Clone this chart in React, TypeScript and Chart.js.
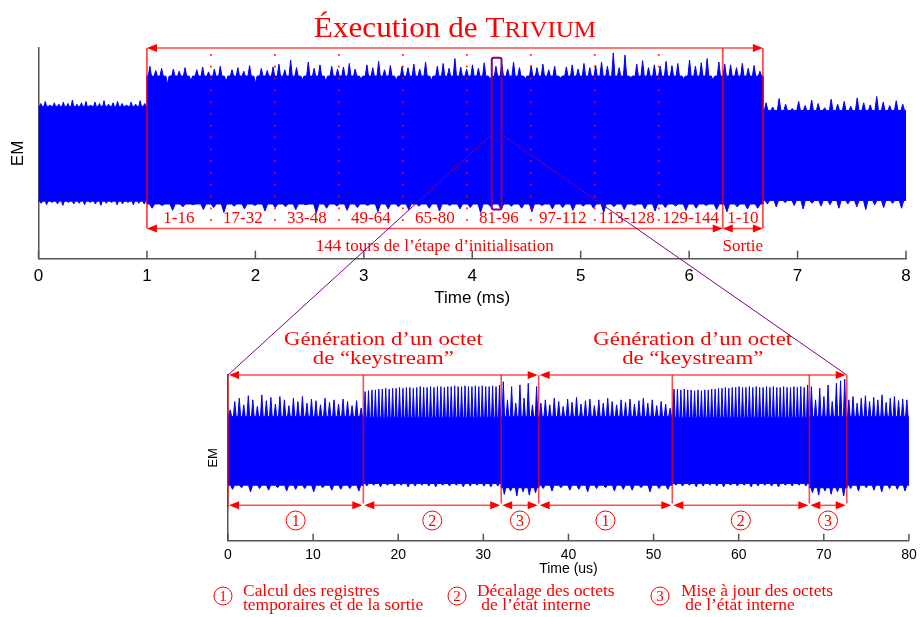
import React, { useEffect, useRef } from "react";
import { Chart, registerables } from "chart.js";

Chart.register(...registerables);

// ---------------- Top trace : whole TRIVIUM execution (time in ms) ----------------
const topSegBounds = [0, 1.0, 6.68, 8.0]; // before / execution / after
const topCoreUpper = [0.67, 1.1, 0.61];
const topCoreLower = [-0.68, -0.72, -0.67];
const topPreUpper = [0.71, 0.74, 0.69, 0.72, 0.7, 0.73, 0.71, 0.76, 0.7, 0.72, 0.74, 0.69, 0.73, 0.71, 0.75, 0.7, 0.72, 0.74, 0.71, 0.69, 0.73, 0.7, 0.75, 0.71];
const topExecUpper = [
  1.24, 1.18, 1.21, 0.98, 1.2, 1.17, 1.22, 1.03, 1.19, 1.23, 1.16,
  1.2, 1.24, 1.02, 1.19, 1.22, 1.17, 1.25, 1.0, 1.21, 1.18, 1.23,
  1.27, 1.19, 1.33, 1.22, 1.05, 1.3, 1.21, 1.26, 1.02, 1.24, 1.2,
  1.23, 1.28, 1.2, 1.06, 1.26, 1.22, 1.31, 1.19, 1.25, 1.04, 1.24,
  1.22, 1.27, 1.2, 1.3, 1.04, 1.24, 1.28, 1.21, 1.35, 1.23, 1.2,
  1.26, 1.21, 1.29, 1.05, 1.24, 1.27, 1.2, 1.3, 1.22, 1.06, 1.25,
  1.22, 1.27, 1.19, 1.24, 1.07, 1.23, 1.26, 1.2, 1.28, 1.22, 1.25,
  1.3, 1.24, 1.43, 1.22, 1.4, 1.08, 1.27, 1.32, 1.22, 1.26, 1.24,
  1.31, 1.25, 1.28, 1.06, 1.33, 1.24, 1.29, 1.35, 1.04, 1.3, 1.27,
  1.26, 1.22, 1.28, 1.21, 1.25, 1.17,
];
const topPostUpper = [0.72, 0.66, 0.78, 0.7, 0.64, 0.74, 0.68, 0.76, 0.71, 0.65, 0.77, 0.7, 0.74, 0.67, 0.79, 0.72, 0.69, 0.81, 0.73, 0.68, 0.75, 0.7];
const topPreLower = [-0.71, -0.73, -0.7, -0.72, -0.74, -0.7, -0.72, -0.71, -0.73, -0.7, -0.72, -0.74, -0.71, -0.7, -0.73, -0.72, -0.7, -0.73, -0.71, -0.72];
const topExecLower = [
  -0.78, -0.74, -0.81, -0.76, -0.73, -0.8, -0.77, -0.84, -0.75, -0.79, -0.74, -0.82, -0.77, -0.76, -0.8,
  -0.73, -0.85, -0.78, -0.75, -0.81, -0.77, -0.74, -0.83, -0.79, -0.76, -0.8, -0.75, -0.78, -0.82, -0.74,
  -0.79, -0.77, -0.84, -0.76, -0.8, -0.75, -0.78, -0.83, -0.74, -0.79, -0.77, -0.81, -0.75, -0.78, -0.84,
  -0.76, -0.8, -0.74, -0.79, -0.82, -0.77, -0.75, -0.81, -0.78, -0.74, -0.8, -0.83, -0.76, -0.79, -0.78,
];
const topPostLower = [-0.72, -0.76, -0.7, -0.74, -0.79, -0.71, -0.75, -0.73, -0.78, -0.72, -0.76, -0.8, -0.73, -0.77, -0.71, -0.78];

const roundLabels = ["1-16", "17-32", "33-48", "49-64", "65-80", "81-96", "97-112", "113-128", "129-144"];
const outputLabel = "1-10";
const initStart = 1.0;
const initEnd = 6.31;
const outputEnd = 6.68;
const zoomBoxX = [4.18, 4.27];
const zoomBoxY = [1.36, -0.8];

// ---------------- Bottom trace : zoom on two keystream bytes (time in us) ----------------
const botSegBounds = [0, 15.9, 32.1, 36.5, 52.2, 68.3, 72.7, 80];
const botSegStep = [1, 2, 3, 1, 2, 3]; // circled step label of each annotated segment
const byteBounds = [0, 36.5, 72.7];
const botCoreUpper = [0.5, 0.49, 0.5, 0.5, 0.49, 0.5, 0.5];
const botCoreLower = [-0.33, -0.31, -0.36, -0.33, -0.31, -0.36, -0.33];
const botUp1a = [0.58, 0.68, 0.72, 0.64, 0.75, 0.7, 0.62, 0.76, 0.69, 0.73, 0.65, 0.74, 0.7, 0.63, 0.72, 0.68, 0.74, 0.66, 0.71, 0.69, 0.64, 0.72, 0.67, 0.7, 0.65, 0.71, 0.68, 0.63, 0.69, 0.6];
const botUp2a = [0.8, 0.81, 0.82, 0.82, 0.83, 0.83, 0.84, 0.83, 0.84, 0.84, 0.85, 0.84, 0.85, 0.85, 0.84, 0.85, 0.86, 0.85, 0.85, 0.86, 0.85, 0.86, 0.86, 0.85, 0.86, 0.86, 0.87, 0.86, 0.86, 0.87, 0.86, 0.86, 0.87, 0.86, 0.87, 0.86, 0.86, 0.87, 0.86, 0.88];
const botUp3a = [0.92, 0.7, 0.86, 0.66, 0.88, 0.72, 0.9, 0.64, 0.86];
const botUp1b = [0.66, 0.7, 0.64, 0.72, 0.68, 0.62, 0.71, 0.67, 0.73, 0.65, 0.69, 0.71, 0.63, 0.7, 0.66, 0.72, 0.68, 0.64, 0.7, 0.67, 0.71, 0.65, 0.69, 0.72, 0.66, 0.7, 0.63, 0.68, 0.65, 0.6];
const botUp2b = [0.83, 0.83, 0.82, 0.83, 0.82, 0.82, 0.81, 0.82, 0.81, 0.82, 0.82, 0.83, 0.83, 0.84, 0.84, 0.85, 0.84, 0.85, 0.85, 0.86, 0.85, 0.85, 0.86, 0.85, 0.86, 0.85, 0.85, 0.86, 0.85, 0.86, 0.85, 0.85, 0.86, 0.85, 0.85, 0.86, 0.85, 0.86, 0.85, 0.88];
const botUp3b = [0.86, 0.7, 0.84, 0.74, 0.88, 0.68, 0.9, 0.93, 0.95];
const botUpPost = [0.7, 0.74, 0.66, 0.72, 0.75, 0.68, 0.73, 0.7, 0.76, 0.67, 0.72, 0.74, 0.69, 0.71, 0.7];
const botLo1a = [-0.38, -0.36, -0.41, -0.37, -0.39, -0.36, -0.4, -0.38, -0.37, -0.41, -0.36, -0.39, -0.38, -0.37, -0.4];
const botLo2a = [-0.34, -0.33, -0.35, -0.33, -0.34, -0.33, -0.35, -0.34, -0.33, -0.34, -0.35, -0.33, -0.34, -0.33, -0.35, -0.34, -0.33, -0.34, -0.35, -0.34];
const botLo3a = [-0.44, -0.4, -0.46, -0.41, -0.45, -0.42];
const botLo1b = [-0.37, -0.4, -0.36, -0.39, -0.38, -0.41, -0.37, -0.36, -0.4, -0.38, -0.39, -0.36, -0.41, -0.37, -0.38];
const botLo2b = [-0.33, -0.34, -0.33, -0.35, -0.34, -0.33, -0.34, -0.35, -0.33, -0.34, -0.33, -0.35, -0.34, -0.33, -0.34, -0.35, -0.33, -0.34, -0.33, -0.34];
const botLo3b = [-0.42, -0.45, -0.4, -0.44, -0.41, -0.46];
const botLoPost = [-0.37, -0.4, -0.36, -0.39, -0.41, -0.37, -0.38, -0.4];

const legendItems = [
  ["Calcul des registres", "temporaires et de la sortie"],
  ["Décalage des octets", " de l’état interne"],
  ["Mise à jour des octets", " de l’état interne"],
];

// ---------------- styles ----------------
const SIG = "#0000ff";
const RED = "rgb(255,0,0)";
const RED_LINE = "rgba(255,0,0,0.7)";
const PURPLE = "rgb(128,0,128)";
const AXIS = "#555555";
const SERIF = '"Liberation Serif", serif';
const SANS = '"Liberation Sans", Arial, sans-serif';

type Pt = { x: number; y: number };

function envelope(bounds: number[], cores: number[], spikes: number[][], width: number): Pt[] {
  const pts: Pt[] = [];
  for (let s = 0; s < spikes.length; s++) {
    const a = bounds[s];
    const b = bounds[s + 1];
    const c = cores[s];
    const sp = spikes[s];
    const p = (b - a) / sp.length;
    pts.push({ x: a, y: c });
    sp.forEach((v, i) => {
      const m = a + (i + 0.5) * p;
      pts.push({ x: m - (width * p) / 2, y: c }, { x: m, y: v }, { x: m + (width * p) / 2, y: c });
    });
    pts.push({ x: b, y: c });
  }
  return pts;
}

function polygon(upper: Pt[], lower: Pt[]): Pt[] {
  return upper.concat(lower.slice().reverse());
}

function arrowHead(ctx: CanvasRenderingContext2D, x: number, y: number, dir: number) {
  ctx.beginPath();
  ctx.moveTo(x, y);
  ctx.lineTo(x - dir * 10, y - 4);
  ctx.lineTo(x - dir * 10, y + 4);
  ctx.closePath();
  ctx.fill();
}

function dblArrow(ctx: CanvasRenderingContext2D, x1: number, x2: number, y: number) {
  ctx.strokeStyle = RED_LINE;
  ctx.lineWidth = 1.5;
  ctx.beginPath();
  ctx.moveTo(x1 + 3, y);
  ctx.lineTo(x2 - 3, y);
  ctx.stroke();
  ctx.fillStyle = RED;
  arrowHead(ctx, x1, y, -1);
  arrowHead(ctx, x2, y, 1);
}

function vline(ctx: CanvasRenderingContext2D, x: number, y1: number, y2: number) {
  ctx.beginPath();
  ctx.moveTo(x, y1);
  ctx.lineTo(x, y2);
  ctx.stroke();
}

// text drawn with a slight horizontal stretch (the original uses a wide serif face)
function textS(ctx: CanvasRenderingContext2D, s: string, x: number, y: number, sx: number, align: CanvasTextAlign) {
  ctx.save();
  ctx.translate(x, y);
  ctx.scale(sx, 1);
  ctx.textAlign = align;
  ctx.textBaseline = "alphabetic";
  ctx.fillText(s, 0, 0);
  ctx.restore();
}

function circled(ctx: CanvasRenderingContext2D, n: number, cx: number, cy: number, r: number, size: number) {
  ctx.strokeStyle = RED;
  ctx.lineWidth = 1;
  ctx.beginPath();
  ctx.arc(cx, cy, r, 0, Math.PI * 2);
  ctx.stroke();
  ctx.fillStyle = RED;
  ctx.font = `${size}px ${SERIF}`;
  ctx.textAlign = "center";
  ctx.textBaseline = "alphabetic";
  ctx.fillText(String(n), cx, cy + size * 0.33);
}

function innerTicks(chart: any, len: number) {
  const ctx = chart.ctx;
  const xs = chart.scales.x;
  const ys = chart.scales.y;
  ctx.strokeStyle = AXIS;
  ctx.lineWidth = 1.5;
  xs.ticks.forEach((t: any) => {
    const px = xs.getPixelForValue(t.value);
    vline(ctx, px, ys.bottom, ys.bottom - len);
  });
}

const topAnnotations = {
  id: "topAnnotations",
  afterDraw(chart: any) {
    const ctx = chart.ctx as CanvasRenderingContext2D;
    const xs = chart.scales.x;
    const ys = chart.scales.y;
    const X = (v: number) => xs.getPixelForValue(v);
    const Y = (v: number) => ys.getPixelForValue(v);
    ctx.save();
    innerTicks(chart, 8);

    const annTop = 1.5;
    const annBottom = -1.07;
    const nR = roundLabels.length;
    const w = (initEnd - initStart) / nR;

    // dotted separators between 16-round blocks
    ctx.strokeStyle = "rgba(255,0,0,0.85)";
    ctx.lineWidth = 1.8;
    ctx.setLineDash([1.8, 10]);
    for (let k = 1; k < nR; k++) vline(ctx, X(initStart + k * w), Y(annTop) + 6, Y(annBottom));
    ctx.setLineDash([]);

    // solid separators
    ctx.strokeStyle = RED_LINE;
    ctx.lineWidth = 1.8;
    [initStart, initEnd, outputEnd].forEach((t) => vline(ctx, X(t), Y(annTop), Y(annBottom)));

    // arrows
    dblArrow(ctx, X(initStart), X(outputEnd), Y(annTop));
    dblArrow(ctx, X(initStart), X(initEnd), Y(annBottom));
    dblArrow(ctx, X(initEnd), X(outputEnd), Y(annBottom));

    // round labels
    ctx.fillStyle = RED;
    ctx.textAlign = "center";
    ctx.textBaseline = "alphabetic";
    ctx.font = `17px ${SERIF}`;
    roundLabels.forEach((lab, k) => ctx.fillText(lab, X(initStart + (k + 0.5) * w), Y(-0.9) + 6));
    ctx.fillText(outputLabel, X((initEnd + outputEnd) / 2), Y(-0.9) + 6);
    ctx.fillText("144 tours de l’étape d’initialisation", X((initStart + initEnd) / 2), Y(-1.3) + 6);
    ctx.fillText("Sortie", X((initEnd + outputEnd) / 2), Y(-1.3) + 6);

    // title with small caps
    const big = 30;
    const small = 24;
    const sx = 1.04;
    const part1 = "Éxecution de T";
    const part2 = "RIVIUM";
    ctx.font = `${big}px ${SERIF}`;
    const w1 = ctx.measureText(part1).width * sx;
    ctx.font = `${small}px ${SERIF}`;
    const w2 = ctx.measureText(part2).width * sx;
    const cx = X((initStart + outputEnd) / 2);
    const x0 = cx - (w1 + w2) / 2;
    const by = Y(annTop) - 11;
    ctx.font = `${big}px ${SERIF}`;
    textS(ctx, part1, x0, by, sx, "left");
    ctx.font = `${small}px ${SERIF}`;
    textS(ctx, part2, x0 + w1, by, sx, "left");

    // zoom box
    ctx.strokeStyle = PURPLE;
    ctx.lineWidth = 2;
    const bx1 = X(zoomBoxX[0]);
    const bx2 = X(zoomBoxX[1]);
    const by1 = Y(zoomBoxY[0]);
    const by2 = Y(zoomBoxY[1]);
    ctx.beginPath();
    if ((ctx as any).roundRect) (ctx as any).roundRect(bx1, by1, bx2 - bx1, by2 - by1, 2);
    else ctx.rect(bx1, by1, bx2 - bx1, by2 - by1);
    ctx.stroke();
    ctx.restore();
  },
};

function makeBottomAnnotations(topChart: any) {
  return {
    id: "bottomAnnotations",
    afterDraw(chart: any) {
      const ctx = chart.ctx as CanvasRenderingContext2D;
      const xs = chart.scales.x;
      const ys = chart.scales.y;
      const X = (v: number) => xs.getPixelForValue(v);
      const Y = (v: number) => ys.getPixelForValue(v);
      ctx.save();
      innerTicks(chart, 7);

      const annTop = 1.0;
      const annArrow = -0.573;
      const annBottom = -0.55;

      // vertical separators
      ctx.strokeStyle = RED_LINE;
      ctx.lineWidth = 1.6;
      for (let i = 0; i <= botSegStep.length; i++) vline(ctx, X(botSegBounds[i]), Y(annTop), Y(annBottom) + (i === 0 ? 4 : 0));

      // byte arrows and titles
      for (let b = 0; b < byteBounds.length - 1; b++) {
        dblArrow(ctx, X(byteBounds[b]) + 1, X(byteBounds[b + 1]) - 1, Y(annTop));
        const cx = X((byteBounds[b] + byteBounds[b + 1]) / 2);
        ctx.fillStyle = RED;
        ctx.font = `19px ${SERIF}`;
        textS(ctx, "Génération d’un octet", cx, Y(annTop) - 30, 1.2, "center");
        textS(ctx, "de “keystream”", cx, Y(annTop) - 11, 1.2, "center");
      }

      // step arrows and circled labels
      for (let i = 0; i < botSegStep.length; i++) {
        const x1 = X(botSegBounds[i]);
        const x2 = X(botSegBounds[i + 1]);
        dblArrow(ctx, x1 + 1, x2 - 1, Y(annArrow));
        circled(ctx, botSegStep[i], (x1 + x2) / 2, Y(-0.756), 9.5, 16);
      }

      // legend under the axis
      const lx = [223, 457, 660];
      const tx = [243, 477, 681];
      legendItems.forEach((lines, i) => {
        circled(ctx, i + 1, lx[i], 596, 9, 15);
        ctx.fillStyle = RED;
        ctx.font = `16px ${SERIF}`;
        textS(ctx, lines[0], tx[i], 596, 1.09, "left");
        textS(ctx, lines[1], tx[i], 610, 1.09, "left");
      });

      // zoom lines from the top trace
      if (topChart && topChart.scales) {
        const txs = topChart.scales.x;
        const tys = topChart.scales.y;
        const yFrom = tys.getPixelForValue(0.27);
        ctx.strokeStyle = PURPLE;
        ctx.lineWidth = 1;
        ctx.beginPath();
        ctx.moveTo(txs.getPixelForValue(zoomBoxX[0]), yFrom);
        ctx.lineTo(X(byteBounds[0]), Y(annTop));
        ctx.moveTo(txs.getPixelForValue(zoomBoxX[1]), yFrom);
        ctx.lineTo(X(byteBounds[2]), Y(annTop));
        ctx.stroke();
      }
      ctx.restore();
    },
  };
}

function axisFont(size: number, lineHeight = 1.2) {
  return { family: SANS, size, lineHeight };
}

export default function App() {
  const topRef = useRef<HTMLCanvasElement>(null);
  const botRef = useRef<HTMLCanvasElement>(null);

  useEffect(() => {
    const topUpper = envelope(topSegBounds, topCoreUpper, [topPreUpper, topExecUpper, topPostUpper], 0.55);
    const topLower = envelope(topSegBounds, topCoreLower, [topPreLower, topExecLower, topPostLower], 0.5);
    const botUpper = envelope(botSegBounds, botCoreUpper, [botUp1a, botUp2a, botUp3a, botUp1b, botUp2b, botUp3b, botUpPost], 0.6);
    const botLower = envelope(botSegBounds, botCoreLower, [botLo1a, botLo2a, botLo3a, botLo1b, botLo2b, botLo3b, botLoPost], 0.45);

    const top = new Chart(topRef.current as HTMLCanvasElement, {
      type: "line",
      data: {
        datasets: [
          {
            data: polygon(topUpper, topLower),
            borderColor: SIG,
            backgroundColor: SIG,
            borderWidth: 1,
            pointRadius: 0,
            fill: "shape",
            tension: 0,
          } as any,
        ],
      },
      options: {
        responsive: false,
        animation: false,
        events: [],
        layout: { padding: { left: 0, right: 14, top: 48, bottom: 308.8 } },
        plugins: { legend: { display: false }, tooltip: { enabled: false } },
        scales: {
          x: {
            type: "linear",
            min: 0,
            max: 8,
            grid: { display: false, drawTicks: false },
            border: { display: true, color: AXIS, width: 1.5 },
            ticks: { stepSize: 1, padding: 7.8, color: "#000", font: axisFont(17), maxRotation: 0 },
            title: { display: true, text: "Time (ms)", color: "#000", font: axisFont(17), padding: { top: -7, bottom: 0 } },
          },
          y: {
            type: "linear",
            min: -1.5,
            max: 1.5,
            grid: { display: false, drawTicks: false },
            border: { display: true, color: AXIS, width: 1.5 },
            ticks: { display: false },
            title: { display: true, text: "EM", color: "#000", font: axisFont(17), padding: { top: 7.8, bottom: 10.3 } },
          },
        },
      } as any,
      plugins: [topAnnotations],
    });

    const bot = new Chart(botRef.current as HTMLCanvasElement, {
      type: "line",
      data: {
        datasets: [
          {
            data: polygon(botUpper, botLower),
            borderColor: SIG,
            backgroundColor: SIG,
            borderWidth: 1,
            pointRadius: 0,
            fill: "shape",
            tension: 0,
          } as any,
        ],
      },
      options: {
        responsive: false,
        animation: false,
        events: [],
        layout: { padding: { left: 200, right: 8, top: 375, bottom: 39.9 } },
        plugins: { legend: { display: false }, tooltip: { enabled: false } },
        scales: {
          x: {
            type: "linear",
            min: 0,
            max: 80,
            grid: { display: false, drawTicks: false },
            border: { display: true, color: AXIS, width: 1.5 },
            ticks: { stepSize: 10, padding: 6.3, color: "#000", font: axisFont(14, 1.1), maxRotation: 0 },
            title: { display: true, text: "Time (us)", color: "#000", font: axisFont(14, 1.1), padding: { top: -7, bottom: 0 } },
          },
          y: {
            type: "linear",
            min: -1,
            max: 1,
            grid: { display: false, drawTicks: false },
            border: { display: true, color: AXIS, width: 1.5 },
            ticks: { display: false },
            title: { display: true, text: "EM", color: "#000", font: axisFont(13), padding: { top: 5.2, bottom: 7.2 } },
          },
        },
      } as any,
      plugins: [makeBottomAnnotations(top)],
    });

    return () => {
      bot.destroy();
      top.destroy();
    };
  }, []);

  return (
    <div style={{ position: "fixed", left: 0, top: 0, width: 920, height: 617, background: "#fff", overflow: "hidden" }}>
      <canvas ref={topRef} width={920} height={617} style={{ position: "absolute", left: 0, top: 0 }} />
      <canvas ref={botRef} width={923} height={617} style={{ position: "absolute", left: 0, top: 0 }} />
    </div>
  );
}
